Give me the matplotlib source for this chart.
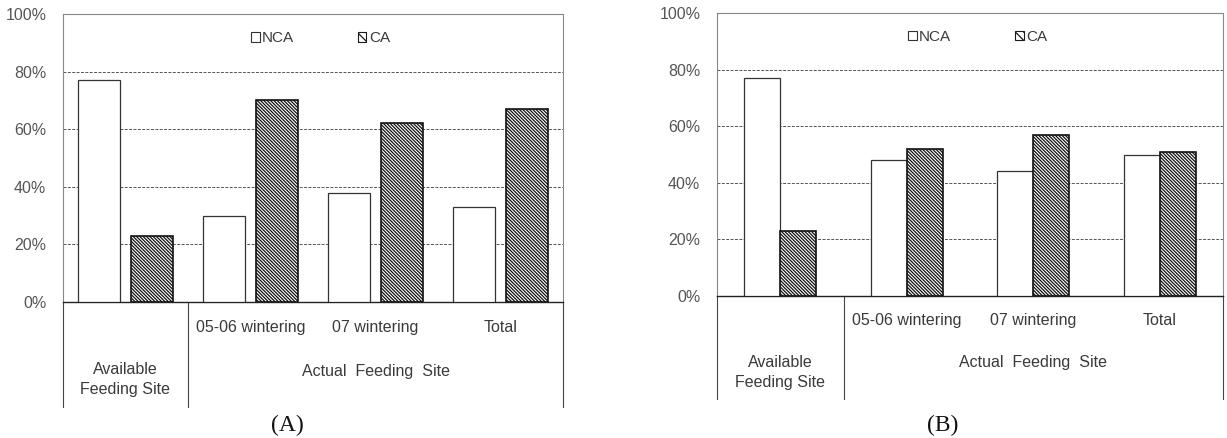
import matplotlib.pyplot as plt
import matplotlib.patches as mpatches
import numpy as np

plt.rcParams['font.family'] = ['Liberation Sans', 'DejaVu Sans']
plt.rcParams['hatch.linewidth'] = 0.9

# data ---------------------------------------------------------------
groups = ["Available\nFeeding Site", "05-06 wintering", "07 wintering", "Total"]
yticks = [0, 20, 40, 60, 80, 100]
ytick_labels = ["0%", "20%", "40%", "60%", "80%", "100%"]

nca_a = [77, 30, 38, 33]
ca_a = [23, 70, 62, 67]

nca_b = [77, 48, 44, 50]
ca_b = [23, 52, 57, 51]

txt = "#3a3a3a"
grid_c = "#555555"
dense = "\\" * 10


def draw_panel(ax, nca, ca, width, gap, depth, y_lab, y_sub, y_act,
               left_style):
    x = np.arange(len(groups))
    off = (width + gap) / 2
    ax.bar(x - off, nca, width, color="white", edgecolor="#333333",
           linewidth=0.9, zorder=3)
    ax.bar(x + off, ca, width, color="white", edgecolor="#111111",
           hatch=dense, linewidth=1.2, zorder=3)

    ax.set_xlim(-0.5, 3.5)
    ax.set_ylim(0, 100)
    ax.set_yticks(yticks)
    ax.set_yticklabels(ytick_labels, color="#555555", fontsize=11.5)
    ax.tick_params(axis="y", length=0, pad=12)
    ax.set_xticks([])

    for v in [20, 40, 60, 80]:
        ax.axhline(v, color=grid_c, linestyle=(0, (3, 1.5)), linewidth=0.7,
                   zorder=1)

    for side in ["top", "left", "right"]:
        ax.spines[side].set_color("#888888")
        ax.spines[side].set_linewidth(0.8)
        ax.spines[side].set_linestyle((0, (1, 1)))
    ax.spines["left"].set_linestyle(left_style)
    ax.spines["bottom"].set_color("#222222")
    ax.spines["bottom"].set_linewidth(1.0)

    # category table under the axis
    for xv in [-0.5, 0.5, 3.5]:
        ax.plot([xv, xv], [0, -depth], color="#444444", linewidth=0.8,
                clip_on=False)
    ax.text(0, y_lab, groups[0], ha="center", va="center", fontsize=11.5,
            color=txt, linespacing=1.4)
    for i in range(1, 4):
        ax.text(i, y_sub, groups[i], ha="center", va="center",
                fontsize=11.5, color=txt)
    ax.text(2, y_act, "Actual  Feeding  Site", ha="center", va="center",
            fontsize=11.5, color=txt)

    handles = [
        mpatches.Patch(facecolor="white", edgecolor="#333333", linewidth=0.8,
                       label="NCA"),
        mpatches.Patch(facecolor="white", edgecolor="#1a1a1a",
                       hatch="\\\\\\\\", linewidth=0.8, label="CA"),
    ]
    ax.legend(handles=handles, loc="center", bbox_to_anchor=(0.515, 0.915),
              ncol=2, frameon=False, fontsize=11, handlelength=0.55,
              handleheight=0.55, handletextpad=0.15, columnspacing=4.2,
              labelcolor=txt)


fig = plt.figure(figsize=(12.27, 4.38), dpi=100)
ax_a = fig.add_axes([63 / 1227, 1 - 302 / 438, 500 / 1227, 288 / 438])
ax_b = fig.add_axes([717 / 1227, 1 - 296 / 438, 506 / 1227, 283 / 438])

draw_panel(ax_a, nca_a, ca_a, 0.335, 0.09, 36.5, -27, -8.8, -24,
           (0, (1, 1)))
draw_panel(ax_b, nca_b, ca_b, 0.285, 0.0, 36.5, -27, -8.5, -23.5,
           "solid")

# panel captions
fig.text(287 / 1227, 1 - 425 / 438, "(A)", ha="center", va="center",
         fontsize=17, family="Liberation Serif", color="#111111")
fig.text(943 / 1227, 1 - 425 / 438, "(B)", ha="center", va="center",
         fontsize=17, family="Liberation Serif", color="#111111")

fig.savefig("out.png", dpi=100)
